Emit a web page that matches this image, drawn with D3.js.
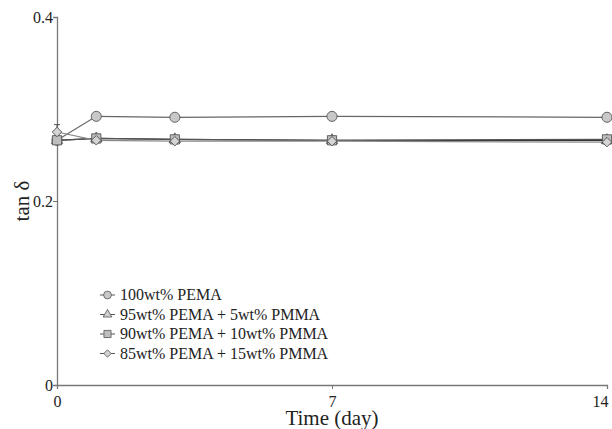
<!DOCTYPE html>
<html><head><meta charset="utf-8">
<script src="https://cdn.jsdelivr.net/npm/d3@7"></script>
<style>body{margin:0;background:#fff}svg{display:block}text{font-family:"Liberation Serif","Times New Roman",serif;fill:#222}</style>
</head><body><svg id="c" width="612" height="429"></svg>
<script>
const days = [0, 1, 3, 7, 14];
const seriesNames = ["100wt% PEMA", "95wt% PEMA + 5wt% PMMA", "90wt% PEMA + 10wt% PMMA", "85wt% PEMA + 15wt% PMMA"];
const pema100 = [0.266, 0.292, 0.291, 0.292, 0.291];
const pema95 = [0.266, 0.268, 0.267, 0.266, 0.266];
const pema90 = [0.266, 0.268, 0.267, 0.266, 0.267];
const pema85 = [0.275, 0.266, 0.265, 0.265, 0.264];
const pema85Err = [0.008, 0, 0, 0, 0];
const xTicks = [0, 7, 14];
const yTicks = [0, 0.2, 0.4];

const serif = "'Liberation Serif', 'Times New Roman', serif";
const svg = d3.select("#c");
const x = d3.scaleLinear().domain([0, 14]).range([57, 607]);
const y = d3.scaleLinear().domain([0, 0.4]).range([385, 17]);
const axisCol = "#777";

const gx = svg.append("g").attr("transform", "translate(0,385)")
  .call(d3.axisBottom(x).tickValues(xTicks).tickSize(4).tickFormat(d3.format("d")))
  .attr("font-family", serif).attr("font-size", 16);
gx.select(".domain").attr("stroke", axisCol).attr("stroke-width", 1.3);
gx.selectAll(".tick line").attr("stroke", axisCol);
gx.selectAll(".tick text").attr("dy", "0.95em").attr("fill", "#222")
  .attr("text-anchor", d => d === 14 ? "end" : "middle").attr("x", d => d === 14 ? 1 : 0);

const gy = svg.append("g").attr("transform", "translate(57,0)")
  .call(d3.axisLeft(y).tickValues(yTicks).tickSize(4).tickFormat(d => d === 0 ? "0" : d3.format(".1f")(d)))
  .attr("font-family", serif).attr("font-size", 16);
gy.select(".domain").attr("stroke", axisCol).attr("stroke-width", 1.3);
gy.selectAll(".tick line").attr("stroke", axisCol);
gy.selectAll(".tick text").attr("x", -4).attr("fill", "#222");

svg.append("text").attr("x", 332).attr("y", 425).attr("text-anchor", "middle").attr("font-size", 21).text("Time (day)");
svg.append("text").attr("transform", "translate(29,201) rotate(-90)").attr("text-anchor", "middle").attr("font-size", 21).text("tan δ");

const data = [
  {name: seriesNames[0], vals: pema100, sym: d3.symbolCircle, size: 80, rot: 0, line: "#666", fill: "#c8c8c8"},
  {name: seriesNames[1], vals: pema95, sym: d3.symbolTriangle, size: 55, rot: 0, line: "#333", fill: "#d0d0d0"},
  {name: seriesNames[2], vals: pema90, sym: d3.symbolSquare, size: 85, rot: 0, line: "#555", fill: "#bdbdbd"},
  {name: seriesNames[3], vals: pema85, sym: d3.symbolSquare, size: 45, rot: 45, line: "#888", fill: "#d4d4d4"}
];
const line = d3.line().x((d, i) => x(days[i])).y(d => y(d));

pema85Err.forEach((e, i) => {
  if (!e) return;
  svg.append("line").attr("x1", x(days[i])).attr("x2", x(days[i])).attr("y1", y(pema85[i] + e)).attr("y2", y(pema85[i] - e)).attr("stroke", "#555");
  svg.append("line").attr("x1", x(days[i]) - 3).attr("x2", x(days[i]) + 3).attr("y1", y(pema85[i] + e)).attr("y2", y(pema85[i] + e)).attr("stroke", "#555");
});

data.forEach(s => {
  svg.append("path").datum(s.vals).attr("d", line).attr("fill", "none").attr("stroke", s.line).attr("stroke-width", 1.2);
});
data.forEach(s => {
  svg.append("g").selectAll("path").data(s.vals).join("path")
    .attr("transform", (d, i) => `translate(${x(days[i])},${y(d)}) rotate(${s.rot})`)
    .attr("d", d3.symbol().type(s.sym).size(s.size))
    .attr("fill", s.fill).attr("stroke", "#555").attr("stroke-width", 0.9);
});

const lg = svg.append("g");
data.forEach((s, i) => {
  const yy = 295 + i * 19.5;
  lg.append("line").attr("x1", 100).attr("x2", 115).attr("y1", yy).attr("y2", yy).attr("stroke", "#555");
  lg.append("path").attr("transform", `translate(107.5,${yy}) rotate(${s.rot})`).attr("d", d3.symbol().type(s.sym).size(s.size * 0.6))
    .attr("fill", s.fill).attr("stroke", "#555").attr("stroke-width", 0.8);
  lg.append("text").attr("x", 120).attr("y", yy + 5).attr("font-size", 16).text(s.name);
});
</script></body></html>
